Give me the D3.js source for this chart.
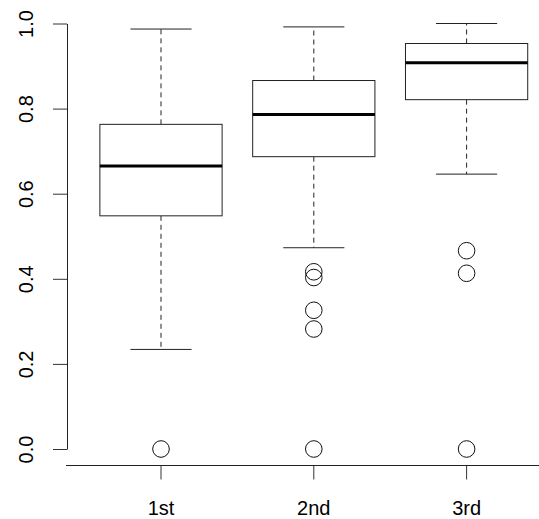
<!DOCTYPE html>
<html>
<head>
<meta charset="utf-8">
<script src="https://cdn.jsdelivr.net/npm/d3@7"></script>
<style>
  body { margin: 0; background: #fff; }
  text { font-family: "Liberation Sans", Arial, sans-serif; fill: #000; }
</style>
</head>
<body>
<div id="hook"></div>
<script>
// Data
var categories = ["1st", "2nd", "3rd"];
var whiskerLow  = [0.234, 0.473, 0.646];
var q1          = [0.548, 0.687, 0.821];
var medians     = [0.665, 0.786, 0.908];
var q3          = [0.763, 0.866, 0.953];
var whiskerHigh = [0.987, 0.992, 1.000];
var outliers = [
    [0],
    [0.4165, 0.403, 0.326, 0.282, 0],
    [0.466, 0.413, 0]
];
var yTicks = [0, 0.2, 0.4, 0.6, 0.8, 1.0];

var boxes = categories.map(function(c, i) {
    return { name: c, lo: whiskerLow[i], q1: q1[i], med: medians[i], q3: q3[i], hi: whiskerHigh[i], out: outliers[i] };
});

var W = 539, H = 519;
var svg = d3.select("#hook").append("svg")
    .attr("width", W)
    .attr("height", H);

// scales
var x = d3.scaleBand().domain(categories).range([84.6, 543]).padding(0);
var y = d3.scaleLinear().domain([0, 1]).range([449, 23.5]);
var boxW = x.bandwidth() * 0.8;
var capW = boxW / 2;
function cx(d) { return x(d.name) + x.bandwidth() / 2; }

// y axis
var yAxis = svg.append("g")
    .attr("transform", "translate(67,0)")
    .call(d3.axisLeft(y).tickValues(yTicks).tickSize(14).tickSizeOuter(0).tickFormat(d3.format(".1f")));
yAxis.select(".domain").attr("stroke", "#222");
yAxis.selectAll(".tick line").attr("stroke", "#333");
yAxis.selectAll(".tick text")
    .attr("x", null).attr("dy", null)
    .attr("transform", "translate(-34,0) rotate(-90)")
    .attr("text-anchor", "middle")
    .style("font-size", "20px");

// x axis
var xAxis = svg.append("g")
    .attr("transform", "translate(0,465.5)")
    .call(d3.axisBottom(x).tickSize(14).tickSizeOuter(0));
xAxis.select(".domain").remove();
xAxis.append("line")
    .attr("x1", 66).attr("x2", 539)
    .attr("stroke", "#222");
xAxis.selectAll(".tick line").attr("stroke", "#333");
xAxis.selectAll(".tick text")
    .attr("y", 49).attr("dy", null)
    .style("font-size", "20px");

// boxes
var g = svg.selectAll("g.box")
    .data(boxes)
    .enter()
        .append("g").attr("class", "box");

// whiskers
g.append("line")
    .attr("x1", cx).attr("x2", cx)
    .attr("y1", function(d) { return y(d.q3); })
    .attr("y2", function(d) { return y(d.hi); })
    .attr("stroke", "#222").attr("stroke-dasharray", "5,4");
g.append("line")
    .attr("x1", cx).attr("x2", cx)
    .attr("y1", function(d) { return y(d.q1); })
    .attr("y2", function(d) { return y(d.lo); })
    .attr("stroke", "#222").attr("stroke-dasharray", "5,4");

// caps
g.append("line")
    .attr("x1", function(d) { return cx(d) - capW / 2; })
    .attr("x2", function(d) { return cx(d) + capW / 2; })
    .attr("y1", function(d) { return y(d.hi); })
    .attr("y2", function(d) { return y(d.hi); })
    .attr("stroke", "#222");
g.append("line")
    .attr("x1", function(d) { return cx(d) - capW / 2; })
    .attr("x2", function(d) { return cx(d) + capW / 2; })
    .attr("y1", function(d) { return y(d.lo); })
    .attr("y2", function(d) { return y(d.lo); })
    .attr("stroke", "#222");

// box rect
g.append("rect")
    .attr("x", function(d) { return cx(d) - boxW / 2; })
    .attr("y", function(d) { return y(d.q3); })
    .attr("width", boxW)
    .attr("height", function(d) { return y(d.q1) - y(d.q3); })
    .attr("fill", "#fff")
    .attr("stroke", "#222");

// median
g.append("line")
    .attr("x1", function(d) { return cx(d) - boxW / 2; })
    .attr("x2", function(d) { return cx(d) + boxW / 2; })
    .attr("y1", function(d) { return y(d.med); })
    .attr("y2", function(d) { return y(d.med); })
    .attr("stroke", "#000").attr("stroke-width", 3);

// outliers
g.selectAll("circle")
    .data(function(d) { return d.out.map(function(v) { return { name: d.name, v: v }; }); })
    .enter()
        .append("circle")
        .attr("cx", cx)
        .attr("cy", function(d) { return y(d.v); })
        .attr("r", 8.3)
        .attr("fill", "none")
        .attr("stroke", "#111");
</script>
</body>
</html>
